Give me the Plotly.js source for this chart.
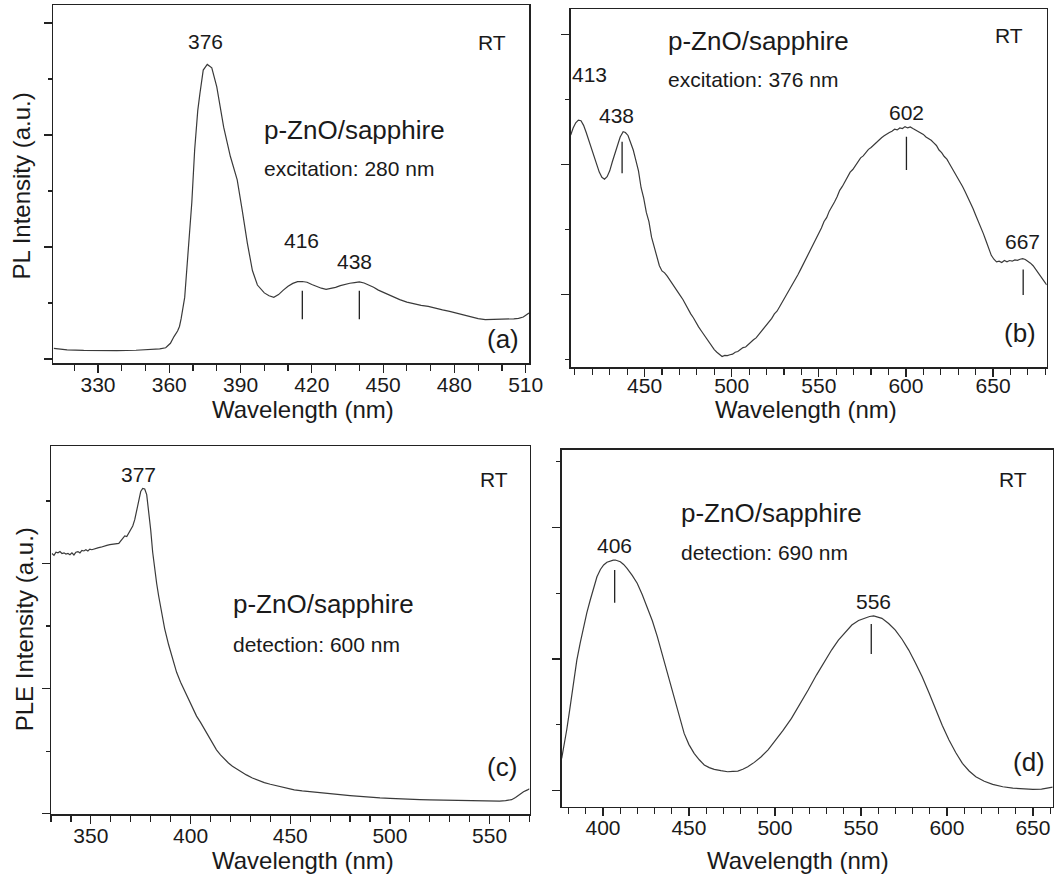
<!DOCTYPE html>
<html>
<head>
<meta charset="utf-8">
<script src="https://cdn.plot.ly/plotly-3.0.1.min.js"></script>
<style>html,body{margin:0;padding:0;background:#fff;}#chart{width:1056px;height:877px;}</style>
</head>
<body>
<div id="chart"></div>
<script>
// ---------- DATA ----------
// (a) PL, excitation 280 nm
const aWavelength = [311.4,317,324,330,338,346,352,356,358.5,360.5,362,363.5,364.3,365,366.5,368,368.6,369.5,370.7,372,372.9,374.3,376,377.9,380,382.9,385.7,388.6,390.7,392.9,395,397.1,400,402,404,406,408,410,412,414,416,418,420,422,424,426,428,430,432,434,436,438,440,442,444,446,448,451,454,457,460,463,466,469,472,475,478,481,484,487,490,493,496,499,502,505,507,509,511.4];
const aIntensity  = [0.095,0.082,0.077,0.074,0.075,0.078,0.082,0.090,0.10,0.14,0.20,0.25,0.29,0.36,0.55,0.95,1.12,1.40,1.87,2.22,2.37,2.58,2.63,2.60,2.43,2.07,1.81,1.60,1.33,1.03,0.79,0.66,0.59,0.565,0.55,0.575,0.615,0.65,0.675,0.69,0.692,0.685,0.665,0.648,0.632,0.622,0.628,0.64,0.655,0.668,0.676,0.682,0.688,0.678,0.662,0.64,0.615,0.585,0.555,0.53,0.508,0.492,0.478,0.47,0.452,0.438,0.425,0.408,0.392,0.372,0.36,0.352,0.352,0.352,0.356,0.358,0.362,0.375,0.41];
const aPeakLabels = ["376","416","438"];
const aPeakMarks = [416, 440];
const aMarkTop = [0.61, 0.61];
const aMarkBottom = [0.354, 0.354];

// (b) PL, excitation 376 nm
const bWavelength = [407.6,409,410.5,412,413.5,415,416.5,418,419.5,421,422.5,424,425.5,427,428.5,430,431.5,433,434.5,436,437.7,439,440.5,442,443.5,445,446.5,448,449.5,451,452.5,454,455.5,457,458.5,460,461.5,463,464.5,466,467.5,469,470.5,472,473.5,475,476.5,478,479.5,481,482.5,484,485.5,487,488.5,490,491.5,493,494.5,496,497.5,499,500.5,502,503.5,505,506.5,508,509.5,511,512.5,514,515.5,517,518.5,520,521.5,523,524.5,526,527.5,529,530.5,532,533.5,535,536.5,538,539.5,541,542.5,544,545.5,547,548.5,550,551.5,553,554.5,556,557.5,559,560.5,562,563.5,565,566.5,568,569.5,571,572.5,574,575.5,577,578.5,580,581.5,583,584.5,586,587.5,589,590.5,592,593.5,595,596.5,598,599.5,601,602.5,604,605.5,607,608.5,610,611.5,613,614.5,616,617.5,619,620.5,622,623.5,625,626.5,628,629.5,631,632.5,634,635.5,637,638.5,640,641.5,643,644.5,646,647.5,649,650.5,652,653.5,655,656.5,658,659.5,661,662.5,664,665.5,667,668.5,670,671.5,673,674.5,676,677.5,679,680.8];
const bIntensity  = [1.726,1.78,1.82,1.84,1.835,1.80,1.745,1.685,1.62,1.55,1.49,1.44,1.40,1.385,1.405,1.45,1.52,1.59,1.66,1.71,1.751,1.745,1.722,1.67,1.61,1.53,1.45,1.32,1.24,1.13,1.06,0.94,0.86,0.78,0.72,0.68,0.665,0.64,0.61,0.585,0.56,0.525,0.49,0.46,0.42,0.385,0.35,0.32,0.28,0.25,0.22,0.19,0.155,0.125,0.10,0.075,0.055,0.035,0.022,0.03,0.028,0.035,0.04,0.055,0.06,0.075,0.09,0.095,0.115,0.13,0.15,0.165,0.19,0.21,0.24,0.26,0.29,0.315,0.35,0.37,0.405,0.44,0.47,0.505,0.535,0.575,0.605,0.65,0.69,0.73,0.765,0.81,0.85,0.895,0.93,0.975,1.01,1.06,1.09,1.14,1.17,1.21,1.25,1.30,1.33,1.37,1.40,1.44,1.46,1.49,1.52,1.55,1.565,1.59,1.615,1.63,1.65,1.665,1.69,1.705,1.72,1.735,1.745,1.755,1.77,1.765,1.78,1.775,1.79,1.78,1.787,1.775,1.765,1.755,1.74,1.73,1.71,1.70,1.685,1.665,1.645,1.61,1.59,1.56,1.54,1.505,1.47,1.44,1.41,1.37,1.33,1.29,1.25,1.21,1.16,1.11,1.065,1.02,0.965,0.91,0.855,0.80,0.77,0.75,0.755,0.745,0.76,0.75,0.76,0.755,0.765,0.762,0.77,0.775,0.768,0.755,0.74,0.72,0.69,0.66,0.63,0.60,0.572];
const bPeakLabels = ["413","438","602","667"];
const bPeakMarks = [437.1, 600.3, 667.3];
const bMarkTop = [1.674, 1.713, 0.692];
const bMarkBottom = [1.431, 1.456, 0.495];

// (c) PLE, detection 600 nm
const cWavelength = [330.5,331.5,332.5,333.5,334.5,335.5,336.5,337.5,338.5,339.5,340.5,341.5,342.5,343.5,344.5,345.5,346.5,347.5,348.5,349.5,350.5,352,353.5,355,356.5,358,359.5,361,362.5,364,365.5,367,368,369,370,371,372,373,374,375,376,377,378,379,380,381,382,383,384,385.5,387,389,391,393,395,397,399,401,403,405,407,409,411,413,415,417,419,421,423,425,428,431,434,437,440,444,448,452,456,460,465,470,475,480,485,490,495,500,505,510,515,520,525,530,535,540,545,550,555,558,561,563,565,567,569,570];
const cIntensity  = [2.08,2.065,2.09,2.085,2.095,2.08,2.085,2.075,2.08,2.07,2.085,2.068,2.09,2.095,2.085,2.105,2.10,2.11,2.10,2.115,2.11,2.12,2.125,2.13,2.14,2.145,2.15,2.155,2.155,2.16,2.19,2.22,2.215,2.245,2.27,2.30,2.35,2.43,2.52,2.575,2.60,2.595,2.55,2.43,2.27,2.09,1.95,1.84,1.74,1.61,1.48,1.35,1.23,1.13,1.05,0.98,0.91,0.845,0.78,0.73,0.675,0.62,0.565,0.51,0.47,0.435,0.405,0.38,0.36,0.335,0.31,0.285,0.265,0.248,0.235,0.218,0.202,0.19,0.182,0.175,0.165,0.158,0.152,0.145,0.137,0.13,0.126,0.122,0.117,0.115,0.112,0.11,0.108,0.105,0.104,0.102,0.101,0.10,0.101,0.104,0.112,0.13,0.155,0.175,0.19,0.20];
const cPeakLabels = ["377"];

// (d) PLE, detection 690 nm
const dWavelength = [376,377.5,378.9,380.5,381.9,383.3,384.8,386.8,388.7,390.6,392.6,394.5,396.5,398.5,400.4,402.3,404.3,406,407.2,408.7,410.1,412,414,417,419.9,422.8,425.7,428.7,431.6,434.5,437.4,440.4,443.3,445.2,447.2,450,453,456,458.9,461.8,464.7,468.6,472.5,475.5,478.4,481.3,484.2,488,492,496,499.8,504.7,509.6,514.5,519.3,524.2,529.1,533,536.9,540.8,544.7,548.6,552.5,555,557.4,559.8,562.2,566.1,570,573.9,577.8,581.7,585.6,589.5,593.4,597.3,601.2,605.1,609,612.9,616.8,621.7,626.6,632.5,638.3,644,650,655,659.7,661.5];
const dIntensity  = [0.246,0.35,0.461,0.60,0.739,0.87,0.992,1.125,1.246,1.35,1.448,1.54,1.625,1.68,1.714,1.735,1.747,1.751,1.752,1.747,1.739,1.718,1.689,1.635,1.575,1.49,1.397,1.29,1.17,1.03,0.891,0.75,0.613,0.52,0.435,0.35,0.284,0.235,0.195,0.175,0.162,0.152,0.144,0.147,0.149,0.163,0.182,0.215,0.258,0.31,0.372,0.458,0.549,0.655,0.765,0.88,0.992,1.07,1.144,1.205,1.258,1.292,1.314,1.323,1.327,1.32,1.309,1.27,1.22,1.15,1.068,0.97,0.866,0.745,0.613,0.495,0.385,0.29,0.208,0.15,0.106,0.072,0.048,0.03,0.02,0.013,0.01,0.012,0.023,0.027];
const dPeakLabels = ["406","556"];
const dPeakMarks = [406.8, 556];
const dMarkTop = [1.676, 1.266];
const dMarkBottom = [1.428, 1.038];

const panelLetters = ["(a)","(b)","(c)","(d)"];
const sampleName = "p-ZnO/sapphire";
const conditions = ["excitation: 280 nm","excitation: 376 nm","detection: 600 nm","detection: 690 nm"];
const xTitle = "Wavelength (nm)";
const yTitles = ["PL Intensity (a.u.)","PLE Intensity (a.u.)"];

// ---------- LAYOUT HELPERS ----------
const W = 1056, H = 877;
const px = x => x / W;
const py = y => 1 - y / H;
const FONT = "Liberation Sans, Arial, Helvetica, sans-serif";
const INK = "#1a1a1a";
const LINE = "#3a3a3a";

function markSegments(xs, tops, bots) {
  const x = [], y = [];
  xs.forEach((v, i) => { x.push(v, v, null); y.push(bots[i], tops[i], null); });
  return {x, y};
}

const curveStyle = {color: LINE, width: 1.2};
const markStyle = {color: "#222", width: 1.3};
const traces = [];
[[aWavelength, aIntensity, "x", "y"],
 [bWavelength, bIntensity, "x2", "y2"],
 [cWavelength, cIntensity, "x3", "y3"],
 [dWavelength, dIntensity, "x4", "y4"]].forEach(([x, y, xa, ya]) => {
  traces.push({x, y, xaxis: xa, yaxis: ya, type: "scatter", mode: "lines", line: curveStyle, hoverinfo: "skip", showlegend: false});
});
[[aPeakMarks, aMarkTop, aMarkBottom, "x", "y"],
 [bPeakMarks, bMarkTop, bMarkBottom, "x2", "y2"],
 [dPeakMarks, dMarkTop, dMarkBottom, "x4", "y4"]].forEach(([m, t, b, xa, ya]) => {
  const s = markSegments(m, t, b);
  traces.push({x: s.x, y: s.y, xaxis: xa, yaxis: ya, type: "scatter", mode: "lines", line: markStyle, hoverinfo: "skip", showlegend: false});
});

function xAxis(domain, range, tick0, dtick, anchor, standoff) {
  return {
    domain, range, anchor, tick0, dtick, tickmode: "linear",
    showline: true, mirror: true, linecolor: "#222", linewidth: 1.5,
    ticks: "outside", ticklen: 8, tickwidth: 1.2, tickcolor: "#222",
    ticklabelstandoff: standoff,
    tickfont: {family: FONT, size: 21, color: INK},
    showgrid: false, zeroline: false, fixedrange: true,
    minor: {dtick: 10, ticks: "outside", ticklen: 6, tickwidth: 1.2, tickcolor: "#222", showgrid: false}
  };
}
function yAxis(domain, range, tick0, anchor) {
  return {
    domain, range, anchor, tick0, dtick: 1, tickmode: "linear",
    showline: true, mirror: true, linecolor: "#222", linewidth: 1.5,
    ticks: "outside", ticklen: 8, tickwidth: 1.2, tickcolor: "#222",
    showticklabels: false, showgrid: false, zeroline: false, fixedrange: true,
    minor: {dtick: 0.5, ticks: "outside", ticklen: 4, tickwidth: 1.2, tickcolor: "#222", showgrid: false}
  };
}

function txt(text, xPx, yPx, size, anchor, angle) {
  return {text, x: px(xPx), y: py(yPx), xref: "paper", yref: "paper",
          xanchor: anchor || "center", yanchor: "middle", showarrow: false,
          textangle: angle || 0, borderpad: 0,
          font: {family: FONT, size, color: INK}};
}

const annotations = [
  // (a)
  txt(aPeakLabels[0], 205.2, 41.7, 21),
  txt("RT", 492.3, 42.3, 21),
  txt(sampleName, 263, 130, 26, "left"),
  txt(conditions[0], 263, 168.4, 21, "left"),
  txt(aPeakLabels[1], 301.3, 240, 21),
  txt(aPeakLabels[2], 354.7, 261.7, 21),
  txt(panelLetters[0], 502.5, 339, 26),
  // (b)
  txt(sampleName, 667, 41.3, 26, "left"),
  txt(conditions[1], 667, 80, 21, "left"),
  txt("RT", 1009.1, 35.3, 21),
  txt(bPeakLabels[0], 589.3, 74, 21),
  txt(bPeakLabels[1], 616.2, 115.3, 21),
  txt(bPeakLabels[2], 906.2, 112.7, 21),
  txt(bPeakLabels[3], 1022, 242, 21),
  txt(panelLetters[1], 1019.8, 333.3, 26),
  // (c)
  txt(cPeakLabels[0], 138.4, 474.7, 21),
  txt("RT", 493.9, 479.2, 21),
  txt(sampleName, 232, 603.8, 26, "left"),
  txt(conditions[2], 232, 644.4, 21, "left"),
  txt(panelLetters[2], 502, 767.3, 26),
  // (d)
  txt("RT", 1013.3, 479.2, 21),
  txt(sampleName, 680, 513.3, 26, "left"),
  txt(conditions[3], 680, 552.7, 21, "left"),
  txt(dPeakLabels[0], 614.8, 545.5, 21),
  txt(dPeakLabels[1], 873.5, 601.2, 21),
  txt(panelLetters[3], 1029, 761.7, 26),
  // axis titles
  txt(xTitle, 303, 409, 24),
  txt(xTitle, 805.8, 410, 24),
  txt(xTitle, 302.6, 860, 24),
  txt(xTitle, 797.6, 860, 24),
  txt(yTitles[0], 21.7, 185.8, 24, "center", -90),
  txt(yTitles[1], 24.1, 629.2, 24, "center", -90)
];

const layout = {
  width: W, height: H,
  margin: {l: 0, r: 0, t: 0, b: 0, pad: 0},
  paper_bgcolor: "#fff", plot_bgcolor: "#fff",
  showlegend: false,
  font: {family: FONT, color: INK},
  xaxis:  xAxis([px(53.3), px(529)],    [311.2, 511.4], 330, 30, "y", -6),
  yaxis:  yAxis([py(363.3), py(5)],     [-0.0387, 3.161], 0, "x"),
  xaxis2: xAxis([px(570.7), px(1046.7)], [407.6, 680.8], 450, 50, "y2", -9),
  yaxis2: yAxis([py(367), py(9)],       [-0.059, 2.695], 0.5, "x2"),
  xaxis3: xAxis([px(51), px(529.5)],    [330, 570], 350, 50, "y3", -6),
  yaxis3: yAxis([py(814.3), py(446)],   [-0.005, 2.939], 0, "x3"),
  xaxis4: xAxis([px(561.7), px(1052.7)], [376, 661.5], 400, 50, "y4", -6),
  yaxis4: yAxis([py(806.7), py(449.5)], [-0.1215, 2.591], 0, "x4"),
  annotations
};

Plotly.newPlot("chart", traces, layout, {staticPlot: true, displayModeBar: false});
</script>
</body>
</html>
